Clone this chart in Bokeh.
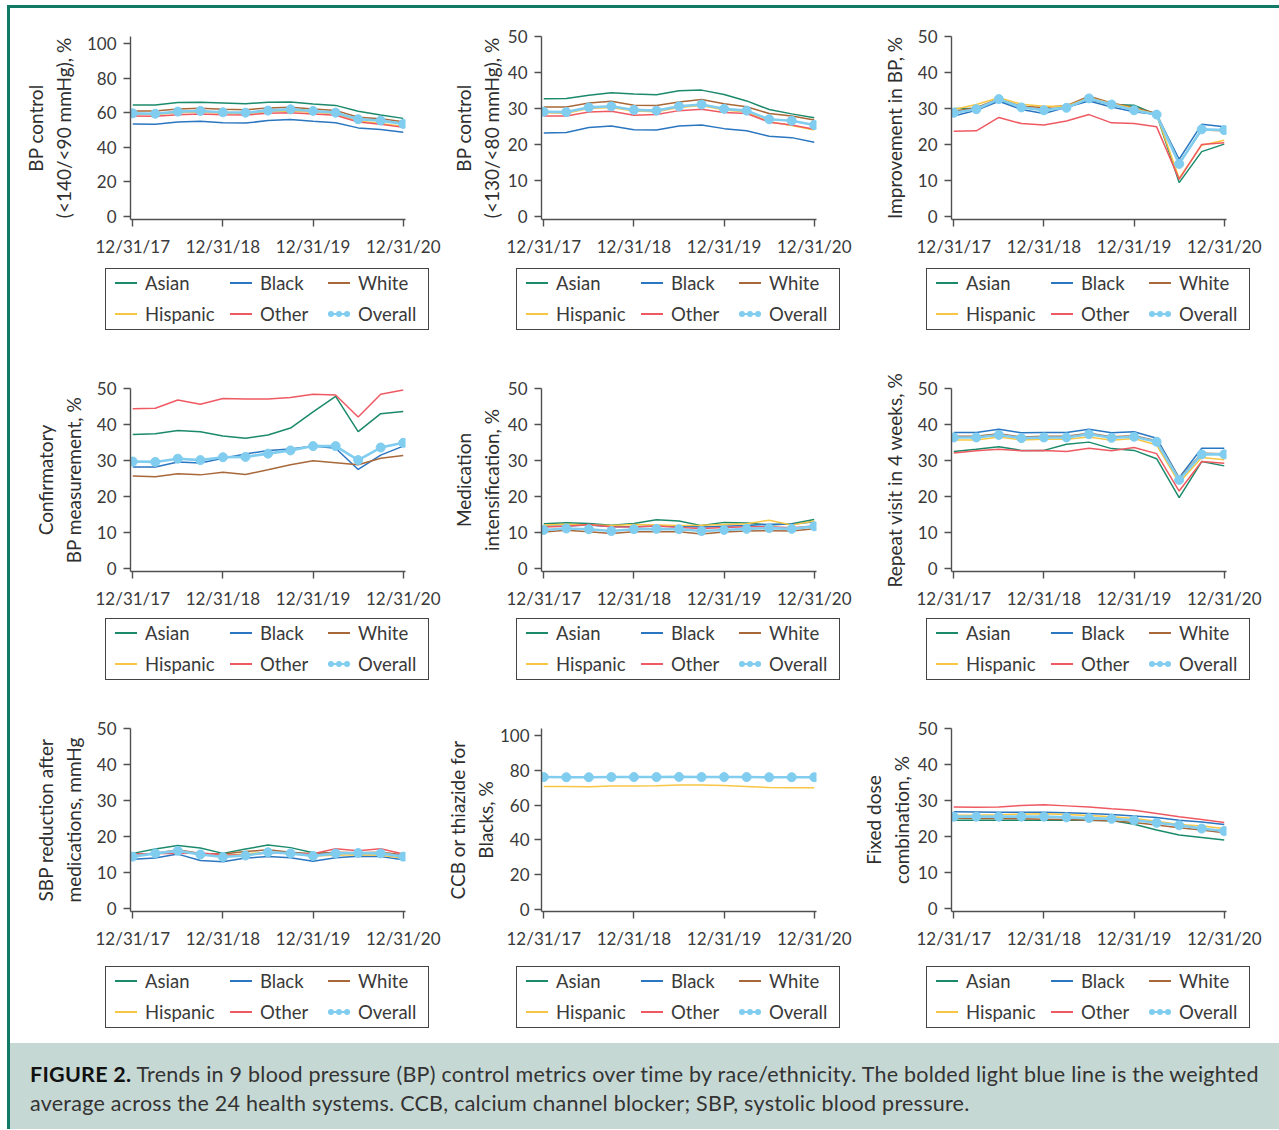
from bokeh.plotting import figure
from bokeh.models import Div, FixedTicker, ColumnDataSource, Range1d
from bokeh.layouts import row, column
from bokeh.embed import file_html
from bokeh.resources import INLINE

# ---------------- data ----------------
QUARTERS = ["12/31/17", "3/31/18", "6/30/18", "9/30/18", "12/31/18", "3/31/19", "6/30/19",
            "9/30/19", "12/31/19", "3/31/20", "6/30/20", "9/30/20", "12/31/20"]
X_TICK_LABELS = ["12/31/17", "12/31/18", "12/31/19", "12/31/20"]
SERIES = ["Asian", "Black", "White", "Hispanic", "Other", "Overall"]

# 1. BP control (<140/<90 mmHg), %
bp140_asian = [64.4, 64.4, 65.8, 66.0, 65.6, 65.2, 66.0, 66.2, 65.0, 64.2, 60.8, 58.7, 56.7]
bp140_black = [53.5, 53.3, 54.6, 55.0, 54.2, 54.0, 55.4, 56.0, 55.0, 54.2, 51.2, 50.2, 48.7]
bp140_white = [61.0, 61.0, 62.1, 62.5, 61.9, 61.7, 62.7, 63.1, 62.1, 61.3, 57.3, 56.5, 54.8]
bp140_hispanic = [59.2, 59.0, 60.0, 60.4, 59.6, 59.4, 60.6, 61.0, 60.2, 59.4, 55.2, 53.8, 52.0]
bp140_other = [58.1, 57.9, 58.8, 59.2, 58.8, 58.7, 59.6, 60.0, 59.2, 58.5, 54.6, 53.3, 51.5]
bp140_overall = [59.6, 59.4, 60.6, 61.0, 60.2, 60.0, 61.2, 61.9, 61.0, 60.0, 56.2, 55.4, 53.5]

# 2. BP control (<130/<80 mmHg), %
bp130_asian = [32.7, 32.8, 33.7, 34.4, 34.0, 33.8, 34.9, 35.1, 33.9, 32.1, 29.7, 28.5, 27.4]
bp130_black = [23.2, 23.3, 24.7, 25.1, 24.1, 24.0, 25.1, 25.4, 24.4, 23.8, 22.3, 21.9, 20.6]
bp130_white = [30.4, 30.4, 31.5, 32.0, 30.9, 30.8, 31.8, 32.5, 31.3, 30.5, 28.6, 27.9, 26.8]
bp130_hispanic = [28.8, 28.7, 30.0, 30.3, 29.3, 29.1, 30.3, 30.8, 29.6, 29.0, 26.3, 25.3, 24.0]
bp130_other = [27.9, 27.9, 29.0, 29.2, 28.1, 28.3, 29.4, 29.8, 28.9, 28.6, 26.2, 25.4, 24.2]
bp130_overall = [29.1, 29.0, 30.3, 30.6, 29.6, 29.4, 30.6, 31.1, 29.9, 29.4, 27.0, 26.6, 25.4]

# 3. Improvement in BP, %
imp_asian = [30.0, 30.0, 32.3, 30.3, 29.7, 30.3, 32.5, 31.1, 30.9, 28.3, 9.4, 18.0, 20.1]
imp_black = [27.9, 29.5, 32.0, 29.7, 28.6, 30.3, 32.1, 30.4, 29.1, 28.3, 15.9, 25.6, 24.9]
imp_white = [29.2, 30.2, 32.7, 30.6, 30.3, 30.8, 33.4, 31.5, 30.3, 28.6, 14.8, 24.0, 23.8]
imp_hispanic = [29.7, 31.1, 33.0, 31.2, 30.6, 30.6, 33.0, 31.4, 30.0, 28.3, 10.6, 19.8, 21.2]
imp_other = [23.7, 23.8, 27.5, 25.8, 25.4, 26.5, 28.3, 26.0, 25.8, 24.9, 10.3, 20.0, 20.5]
imp_overall = [28.8, 29.8, 32.6, 30.3, 29.5, 30.2, 32.8, 31.1, 29.5, 28.3, 14.6, 24.2, 24.0]

# 4. Confirmatory BP measurement, %
conf_asian = [37.2, 37.4, 38.3, 38.0, 36.8, 36.2, 37.1, 39.0, 43.5, 47.8, 38.0, 43.0, 43.6]
conf_black = [28.2, 28.2, 29.6, 29.3, 30.6, 31.8, 32.8, 33.2, 34.0, 33.4, 27.5, 31.5, 34.0]
conf_white = [25.7, 25.5, 26.3, 26.0, 26.7, 26.1, 27.4, 28.8, 29.9, 29.4, 28.8, 30.6, 31.4]
conf_hispanic = []
conf_other = [44.4, 44.5, 46.8, 45.6, 47.2, 47.1, 47.1, 47.5, 48.4, 48.2, 42.1, 48.4, 49.6]
conf_overall = [29.7, 29.6, 30.5, 30.1, 30.9, 31.0, 31.9, 32.8, 34.0, 34.0, 30.1, 33.6, 34.9]

# 5. Medication intensification, %
med_asian = [12.4, 12.7, 12.5, 12.0, 12.5, 13.5, 13.2, 11.9, 12.8, 12.6, 12.1, 12.4, 13.6]
med_black = [11.7, 11.8, 12.1, 11.6, 11.6, 11.8, 11.7, 11.5, 11.7, 11.9, 12.3, 12.3, 13.0]
med_white = [10.1, 10.6, 10.2, 9.7, 10.2, 10.2, 10.2, 9.6, 10.1, 10.4, 10.5, 10.4, 11.0]
med_hispanic = [12.1, 12.3, 12.1, 11.9, 12.2, 12.1, 11.9, 12.0, 12.2, 12.4, 13.4, 12.1, 13.2]
med_other = [11.5, 11.7, 12.2, 11.6, 11.5, 11.8, 11.4, 11.1, 11.4, 11.6, 11.6, 11.3, 11.8]
med_overall = [10.7, 11.1, 10.9, 10.4, 10.9, 11.0, 10.9, 10.4, 10.7, 11.0, 11.2, 11.0, 11.7]

# 6. Repeat visit in 4 weeks, %
rep_asian = [32.5, 33.1, 33.8, 32.8, 32.8, 34.5, 35.1, 33.3, 32.8, 30.5, 19.7, 29.7, 28.5]
rep_black = [37.8, 37.8, 38.7, 37.7, 37.8, 37.8, 38.7, 37.7, 38.0, 36.2, 25.2, 33.4, 33.4]
rep_white = [36.7, 36.7, 37.4, 36.5, 36.7, 36.7, 37.6, 36.6, 36.9, 35.5, 25.0, 32.0, 31.9]
rep_hispanic = [35.7, 35.7, 36.5, 35.7, 35.9, 35.9, 36.5, 35.6, 36.1, 34.3, 23.8, 30.8, 30.2]
rep_other = [32.1, 32.7, 33.1, 32.7, 32.8, 32.5, 33.4, 32.7, 33.6, 31.9, 21.5, 29.7, 29.2]
rep_overall = [36.4, 36.4, 37.1, 36.2, 36.4, 36.4, 37.3, 36.3, 36.6, 35.2, 24.6, 31.7, 31.7]

# 7. SBP reduction after medications, mmHg
sbp_asian = [15.3, 16.5, 17.5, 16.8, 15.3, 16.5, 17.6, 16.9, 15.5, 15.4, 15.3, 15.3, 14.7]
sbp_black = [13.7, 14.0, 15.1, 13.3, 13.0, 14.0, 14.4, 14.1, 13.1, 14.1, 14.5, 14.4, 13.5]
sbp_white = [14.9, 15.3, 16.3, 15.3, 15.1, 15.8, 16.3, 15.6, 15.2, 15.6, 15.5, 15.6, 14.9]
sbp_hispanic = [14.6, 15.3, 16.1, 14.9, 14.6, 15.2, 15.6, 15.2, 14.6, 14.8, 14.9, 14.8, 14.0]
sbp_other = [15.1, 15.3, 15.3, 15.4, 14.9, 14.8, 15.5, 15.3, 15.2, 16.6, 16.0, 16.6, 15.1]
sbp_overall = [14.4, 15.3, 16.0, 15.0, 14.3, 14.7, 15.6, 15.3, 14.6, 15.3, 15.4, 15.3, 14.4]

# 8. CCB or thiazide for Blacks, %
ccb_asian = []
ccb_black = []
ccb_white = []
ccb_hispanic = [70.7, 70.7, 70.5, 70.9, 70.9, 71.1, 71.6, 71.5, 71.3, 70.7, 70.1, 69.9, 69.9]
ccb_other = []
ccb_overall = [76.1, 76.0, 76.0, 76.1, 76.1, 76.1, 76.2, 76.1, 76.1, 76.1, 76.0, 76.0, 76.0]

# 9. Fixed dose combination, %
fdc_asian = [24.5, 24.5, 24.5, 24.5, 24.5, 24.5, 24.5, 24.4, 23.4, 21.8, 20.4, 19.7, 19.0]
fdc_black = [26.9, 26.8, 26.7, 26.7, 26.7, 26.6, 26.4, 26.1, 25.7, 25.3, 24.5, 24.0, 23.3]
fdc_white = [25.1, 25.0, 25.0, 24.9, 24.8, 24.7, 24.5, 24.4, 23.9, 23.2, 22.4, 21.8, 21.0]
fdc_hispanic = [25.9, 25.9, 26.0, 26.2, 26.3, 26.1, 25.8, 25.5, 25.0, 24.2, 23.3, 22.9, 22.2]
fdc_other = [28.2, 28.1, 28.2, 28.6, 28.8, 28.5, 28.2, 27.7, 27.3, 26.4, 25.5, 24.7, 23.9]
fdc_overall = [25.5, 25.5, 25.5, 25.5, 25.5, 25.3, 25.1, 24.9, 24.5, 23.8, 23.1, 22.2, 21.5]

Y_LABELS = [
    "BP control\n(<140/<90 mmHg), %",
    "BP control\n(<130/<80 mmHg), %",
    "Improvement in BP, %",
    "Confirmatory\nBP measurement, %",
    "Medication\nintensification, %",
    "Repeat visit in 4 weeks, %",
    "SBP reduction after\nmedications, mmHg",
    "CCB or thiazide for\nBlacks, %",
    "Fixed dose\ncombination, %",
]
Y_MAX = [100, 50, 50, 50, 50, 50, 50, 100, 50]
PANEL_DATA = [
    [bp140_asian, bp140_black, bp140_white, bp140_hispanic, bp140_other, bp140_overall],
    [bp130_asian, bp130_black, bp130_white, bp130_hispanic, bp130_other, bp130_overall],
    [imp_asian, imp_black, imp_white, imp_hispanic, imp_other, imp_overall],
    [conf_asian, conf_black, conf_white, conf_hispanic, conf_other, conf_overall],
    [med_asian, med_black, med_white, med_hispanic, med_other, med_overall],
    [rep_asian, rep_black, rep_white, rep_hispanic, rep_other, rep_overall],
    [sbp_asian, sbp_black, sbp_white, sbp_hispanic, sbp_other, sbp_overall],
    [ccb_asian, ccb_black, ccb_white, ccb_hispanic, ccb_other, ccb_overall],
    [fdc_asian, fdc_black, fdc_white, fdc_hispanic, fdc_other, fdc_overall],
]

# ---------------- style ----------------
COLORS = ["#1b8a6b", "#2a76c0", "#a8683a", "#f6c644", "#ef5a62", "#80cdf0"]
FONT = "Lato"
TEAL = "#117a66"
AXIS_C = "#505050"
TEXT_C = "#3a3a3a"

FRAME_W = 275
FRAME_H = 183
AXIS_BOTTOM = 45
COL_LEFT = [120, 99, 96]
COL_RIGHT = [37, 39, 53]
ROW_TOP = [28, 38, 33]
ROW_H = [342, 345, 345]
LEG_OFFSET = [4, 2, 10]
LEG_W, LEG_H = 324, 62
LEG_COL_X = [9, 124, 222]
LEG_ROW_Y = [14, 45]
# y range (bottom, top) per panel so that the 0..max ticks land as in the original
Y_RANGE = [(-1.73, 104.0), (-0.85, 50), (-0.85, 50),
           (-0.85, 50), (-0.85, 50), (-0.85, 50),
           (-0.85, 50), (-1.15, 104.0), (-0.85, 50)]


def legend_div(width, height, left, top):
    parts = [f'<div style="margin-left:{left}px;margin-top:{top}px;width:{LEG_W}px;'
             f'height:{LEG_H}px;border:1.5px solid #444;box-sizing:border-box;'
             f'position:relative;background:white;font-family:{FONT};">']
    for k, name in enumerate(SERIES):
        gx = LEG_COL_X[k % 3]
        cy = LEG_ROW_Y[k // 3]
        col = COLORS[k]
        if name == "Overall":
            parts.append(f'<div style="position:absolute;left:{gx}px;top:{cy - 1}px;'
                         f'width:22px;height:2px;background:{col};"></div>')
            for d in (0, 8, 16):
                parts.append(f'<div style="position:absolute;left:{gx + d}px;top:{cy - 3}px;'
                             f'width:6px;height:6px;border-radius:3px;background:{col};"></div>')
        else:
            parts.append(f'<div style="position:absolute;left:{gx}px;top:{cy - 1}px;'
                         f'width:22px;height:1.5px;background:{col};"></div>')
        parts.append(f'<div style="position:absolute;left:{gx + 30}px;top:{cy - 12}px;'
                     f'line-height:24px;font-size:18.5px;color:{TEXT_C};'
                     f'white-space:nowrap;">{name}</div>')
    parts.append('</div>')
    return Div(text="".join(parts), width=width, height=height, margin=0,
               sizing_mode="fixed")


def make_panel(i):
    r, c = divmod(i, 3)
    ymax = Y_MAX[i]
    top = ROW_TOP[r]
    main_h = top + FRAME_H + AXIS_BOTTOM
    width = COL_LEFT[c] + FRAME_W + COL_RIGHT[c]
    p = figure(width=width, height=main_h, sizing_mode="fixed",
               x_range=Range1d(-0.1, 12.1), y_range=Range1d(*Y_RANGE[i]),
               output_backend="svg", toolbar_location=None,
               min_border_left=COL_LEFT[c], min_border_right=COL_RIGHT[c],
               min_border_top=top, min_border_bottom=AXIS_BOTTOM)
    p.outline_line_color = None
    p.grid.visible = False
    p.border_fill_color = "white"

    xs = list(range(len(QUARTERS)))
    for k, name in enumerate(SERIES):
        vals = PANEL_DATA[i][k]
        if not vals:
            continue
        src = ColumnDataSource(dict(x=xs[:len(vals)], y=vals))
        if name == "Overall":
            p.line("x", "y", source=src, line_color=COLORS[k], line_width=2.6)
            p.scatter("x", "y", source=src, size=9, fill_color=COLORS[k],
                      line_color=COLORS[k])
        else:
            p.line("x", "y", source=src, line_color=COLORS[k], line_width=1.5)

    # axes
    p.xaxis.ticker = FixedTicker(ticks=[0, 4, 8, 12])
    p.xaxis.major_label_overrides = {0: X_TICK_LABELS[0], 4: X_TICK_LABELS[1],
                                     8: X_TICK_LABELS[2], 12: X_TICK_LABELS[3]}
    step = 20 if ymax == 100 else 10
    p.yaxis.ticker = FixedTicker(ticks=list(range(0, ymax + 1, step)))
    for ax in (p.xaxis[0], p.yaxis[0]):
        ax.axis_line_color = AXIS_C
        ax.axis_line_width = 1.4
        ax.major_tick_line_color = AXIS_C
        ax.major_tick_line_width = 1.4
        ax.major_tick_out = 7
        ax.major_tick_in = 0
        ax.minor_tick_out = 0
        ax.minor_tick_in = 0
        ax.major_label_text_font = FONT
        ax.major_label_text_font_size = "17px"
        ax.major_label_text_color = TEXT_C
    p.xaxis.major_label_standoff = 9
    p.yaxis.axis_label = Y_LABELS[i]
    p.yaxis.axis_label_text_font = FONT
    p.yaxis.axis_label_text_font_size = "19px"
    p.yaxis.axis_label_text_font_style = "normal"
    p.yaxis.axis_label_text_color = "#2f2f2f"
    two_line = "\n" in Y_LABELS[i]
    if two_line and c > 0 and ymax == 100:
        p.yaxis.axis_label_standoff = 0
        p.yaxis.major_label_standoff = 5
    elif two_line and c > 0:
        p.yaxis.axis_label_standoff = 2
        p.yaxis.major_label_standoff = 7
    else:
        p.yaxis.axis_label_standoff = 9
        p.yaxis.major_label_standoff = 7

    leg = legend_div(width, ROW_H[r] - main_h, COL_LEFT[c] - 25, LEG_OFFSET[r])
    return p, leg


built = [make_panel(i) for i in range(9)]
rows = []
for r in range(3):
    rows.append(row(*[built[3 * r + c][0] for c in range(3)], sizing_mode="fixed"))
    rows.append(row(*[built[3 * r + c][1] for c in range(3)], sizing_mode="fixed"))
grid = column(*rows, sizing_mode="fixed")

caption = Div(
    text=("<b style='color:#111'>FIGURE 2.</b> Trends in 9 blood pressure (BP) control metrics "
          "over time by race/ethnicity. The bolded light blue line is the weighted<br>"
          "average across the 24 health systems. CCB, calcium channel blocker; SBP, "
          "systolic blood pressure."),
    width=1269, height=86, sizing_mode="fixed", margin=0,
    styles={"background-color": "#c6d8d4", "font-family": FONT, "font-size": "21.5px",
            "letter-spacing": "0.25px",
            "color": "#333333", "padding": "17px 20px", "box-sizing": "border-box",
            "line-height": "29px", "white-space": "nowrap", "overflow": "hidden"})
gap = Div(width=1269, height=3, sizing_mode="fixed", margin=0)
left_line = Div(width=3, height=1121, sizing_mode="fixed", margin=0,
                styles={"background-color": TEAL})
top_line = Div(width=1272, height=3, sizing_mode="fixed", margin=0,
               styles={"background-color": TEAL})

layout = column(top_line,
                row(left_line, column(grid, gap, caption, sizing_mode="fixed"),
                    sizing_mode="fixed"),
                sizing_mode="fixed", margin=(5, 0, 0, 7))

with open("out.html", "w") as f:
    f.write(file_html(layout, INLINE))
